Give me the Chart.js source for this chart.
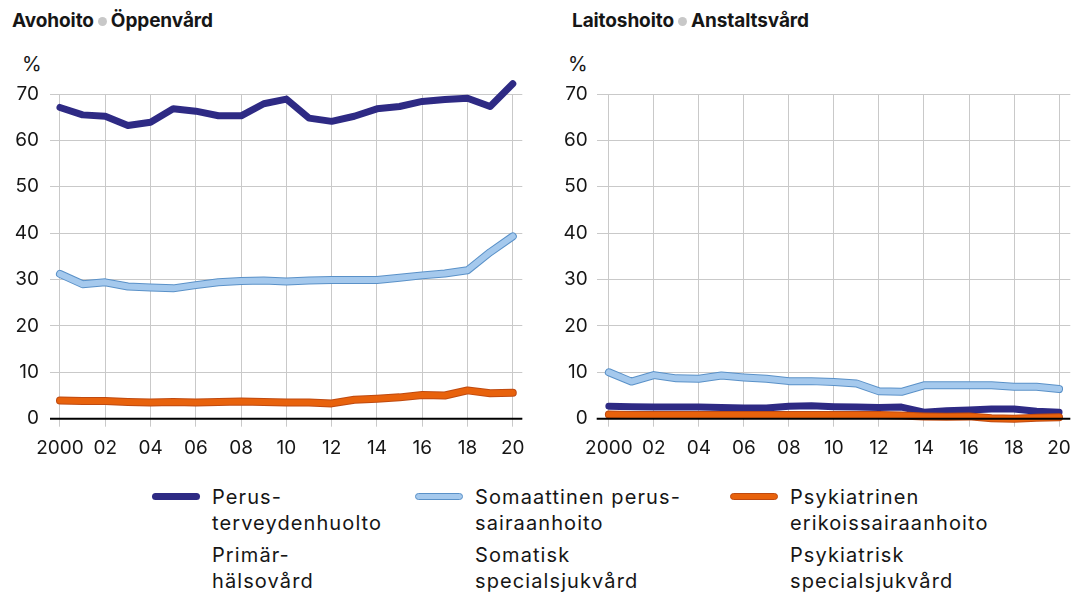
<!DOCTYPE html>
<html>
<head>
<meta charset="utf-8">
<script src="https://cdn.jsdelivr.net/npm/chart.js@4.4.1/dist/chart.umd.min.js"></script>
<style>
  body { margin: 0; background: #fff; width: 1081px; height: 603px; overflow: hidden; font-family: Inter, sans-serif; color: #161616; }
  .box { position: absolute; top: 0; height: 470px; }
  .title { position: absolute; top: 9px; font-size: 19px; font-weight: bold; white-space: nowrap; letter-spacing: -0.1px; }
  .title .dot { display: inline-block; width: 9px; height: 9px; border-radius: 50%; background: #c8c8c8; margin: 0 4px 1px 4px; }
  .unit { position: absolute; top: 52px; font-size: 20px; }
  .swatch { position: absolute; width: 48px; height: 7px; border-radius: 4px; box-sizing: border-box; }
  .ltxt { position: absolute; font-size: 20px; line-height: 26px; white-space: nowrap; letter-spacing: 1.1px; }
  .ltxt .sv { margin-top: 6px; }
</style>
</head>
<body>
<div class="title" style="left:12px">Avohoito<span class="dot"></span>Öppenvård</div>
<div class="title" style="left:572px">Laitoshoito<span class="dot"></span>Anstaltsvård</div>
<div class="unit" style="left:22px">%</div>
<div class="unit" style="left:568px">%</div>
<div class="box" style="left:0;width:540px"><canvas id="avo"></canvas></div>
<div class="box" style="left:540px;width:541px"><canvas id="lai"></canvas></div>
<div id="legend"></div>
<script>
// vuodet / år
const years = [2000, 2001, 2002, 2003, 2004, 2005, 2006, 2007, 2008, 2009, 2010,
  2011, 2012, 2013, 2014, 2015, 2016, 2017, 2018, 2019, 2020];
const xTickValues = [2000, 2002, 2004, 2006, 2008, 2010, 2012, 2014, 2016, 2018, 2020];
const xTickLabels = ['2000', '02', '04', '06', '08', '10', '12', '14', '16', '18', '20'];
const yTickValues = [0, 10, 20, 30, 40, 50, 60, 70];

// Avohoito (%)
const avoPerus = [67.1, 65.5, 65.2, 63.2, 63.9, 66.8, 66.3, 65.3, 65.3, 67.9, 68.9,
  64.8, 64.1, 65.2, 66.8, 67.3, 68.4, 68.8, 69.1, 67.3, 72.2];
const avoSomaattinen = [31.2, 29.0, 29.4, 28.5, 28.3, 28.1, 28.8, 29.4, 29.7, 29.8, 29.6,
  29.8, 29.9, 29.9, 29.9, 30.4, 30.9, 31.3, 32.0, 35.9, 39.3];
const avoPsykiatrinen = [3.9, 3.8, 3.8, 3.6, 3.5, 3.6, 3.5, 3.6, 3.7, 3.6, 3.5,
  3.5, 3.3, 4.1, 4.3, 4.6, 5.1, 5.0, 6.1, 5.5, 5.6];

// Laitoshoito (%)
const laiPerus = [2.7, 2.6, 2.5, 2.5, 2.5, 2.4, 2.3, 2.3, 2.7, 2.8, 2.6,
  2.5, 2.4, 2.5, 1.4, 1.7, 1.9, 2.1, 2.1, 1.6, 1.4];
const laiSomaattinen = [10.0, 8.0, 9.4, 8.7, 8.6, 9.3, 8.9, 8.6, 8.1, 8.1, 7.9,
  7.6, 5.9, 5.8, 7.2, 7.2, 7.2, 7.2, 6.9, 6.9, 6.4];
const laiPsykiatrinen = [0.9, 0.8, 0.8, 0.8, 0.8, 0.8, 0.8, 0.8, 0.8, 0.8, 0.8,
  0.8, 0.8, 0.7, 0.5, 0.4, 0.5, 0.1, 0.0, 0.2, 0.3];

const seriesNames = [
  ['Perus-', 'terveydenhuolto', 'Primär-', 'hälsovård'],
  ['Somaattinen perus-', 'sairaanhoito', 'Somatisk', 'specialsjukvård'],
  ['Psykiatrinen', 'erikoissairaanhoito', 'Psykiatrisk', 'specialsjukvård']
];

const navy = '#2e2a84';
const lightBlue = '#a5c9ed';
const lightBlueEdge = '#5a91c8';
const orange = '#e8620c';
const orangeEdge = '#bf4a10';
const gridGrey = '#c9c9c9';
const txt = '#161616';
const font = { family: 'Inter', size: 19 };

function pts(vals) {
  return years.map((yr, i) => ({ x: yr, y: vals[i] }));
}

function line(vals, color, width, order) {
  return {
    data: pts(vals), borderColor: color, borderWidth: width, order: order, clip: false,
    pointRadius: 0, tension: 0, borderJoinStyle: 'round', borderCapStyle: 'round'
  };
}

// musta nollaviiva datan päälle
const zeroLine = {
  id: 'zeroLine',
  afterDatasetsDraw(chart) {
    const { ctx, chartArea, scales } = chart;
    const y = scales.y.getPixelForValue(0);
    ctx.save();
    ctx.strokeStyle = '#000';
    ctx.lineWidth = 2;
    ctx.beginPath();
    ctx.moveTo(chartArea.left, y);
    ctx.lineTo(chartArea.right, y);
    ctx.stroke();
    ctx.restore();
  }
};

function makeChart(id, perus, soma, psyk, opts) {
  return new Chart(document.getElementById(id), {
    type: 'line',
    data: {
      datasets: [
        line(psyk, orangeEdge, 8, 2),
        line(psyk, orange, 6, 1),
        line(soma, lightBlueEdge, 8, 6),
        line(soma, lightBlue, 6, 5),
        line(perus, navy, 7, 3)
      ]
    },
    options: {
      responsive: true,
      maintainAspectRatio: false,
      animation: false,
      events: [],
      layout: { padding: { top: 94, right: opts.padRight, left: 0, bottom: 0 } },
      plugins: { legend: { display: false }, tooltip: { enabled: false } },
      scales: {
        x: {
          type: 'linear',
          min: opts.xMin,
          max: opts.xMax,
          afterBuildTicks: s => { s.ticks = xTickValues.map(v => ({ value: v })); },
          afterFit: s => { s.height = 51.3; },
          border: { display: false },
          grid: { color: gridGrey, lineWidth: 1, drawTicks: true, tickLength: 8 },
          ticks: {
            color: txt, font: font, padding: 10, maxRotation: 0, autoSkip: false,
            callback: v => xTickLabels[xTickValues.indexOf(v)]
          }
        },
        y: {
          min: 0,
          max: 70,
          afterBuildTicks: s => { s.ticks = yTickValues.map(v => ({ value: v })); },
          afterFit: s => { s.width = opts.yWidth; },
          border: { display: false },
          grid: { color: gridGrey, lineWidth: 1, drawTicks: false },
          ticks: { color: txt, font: font, padding: opts.yPad }
        }
      }
    },
    plugins: [zeroLine]
  });
}

makeChart('avo', avoPerus, avoSomaattinen, avoPsykiatrinen,
  { xMin: 1999.56, xMax: 2020.42, padRight: 17.7, yWidth: 50, yPad: 11 });
makeChart('lai', laiPerus, laiSomaattinen, laiPsykiatrinen,
  { xMin: 1999.46, xMax: 2020.5, padRight: 7, yWidth: 56.7, yPad: 9 });

// selite
const legendLeft = [152, 415, 730];
const swatchStyles = [
  'background:' + navy,
  'background:' + lightBlue + ';border:1px solid ' + lightBlueEdge,
  'background:' + orange + ';border:1px solid ' + orangeEdge
];
const legend = document.getElementById('legend');
seriesNames.forEach((names, i) => {
  const sw = document.createElement('div');
  sw.className = 'swatch';
  sw.style.cssText = swatchStyles[i] + ';left:' + legendLeft[i] + 'px;top:493px';
  legend.appendChild(sw);
  const t = document.createElement('div');
  t.className = 'ltxt';
  t.style.left = (legendLeft[i] + 60) + 'px';
  t.style.top = '484px';
  t.innerHTML = '<div>' + names[0] + '</div><div>' + names[1] + '</div>' +
    '<div class="sv">' + names[2] + '</div><div>' + names[3] + '</div>';
  legend.appendChild(t);
});
</script>
</body>
</html>
